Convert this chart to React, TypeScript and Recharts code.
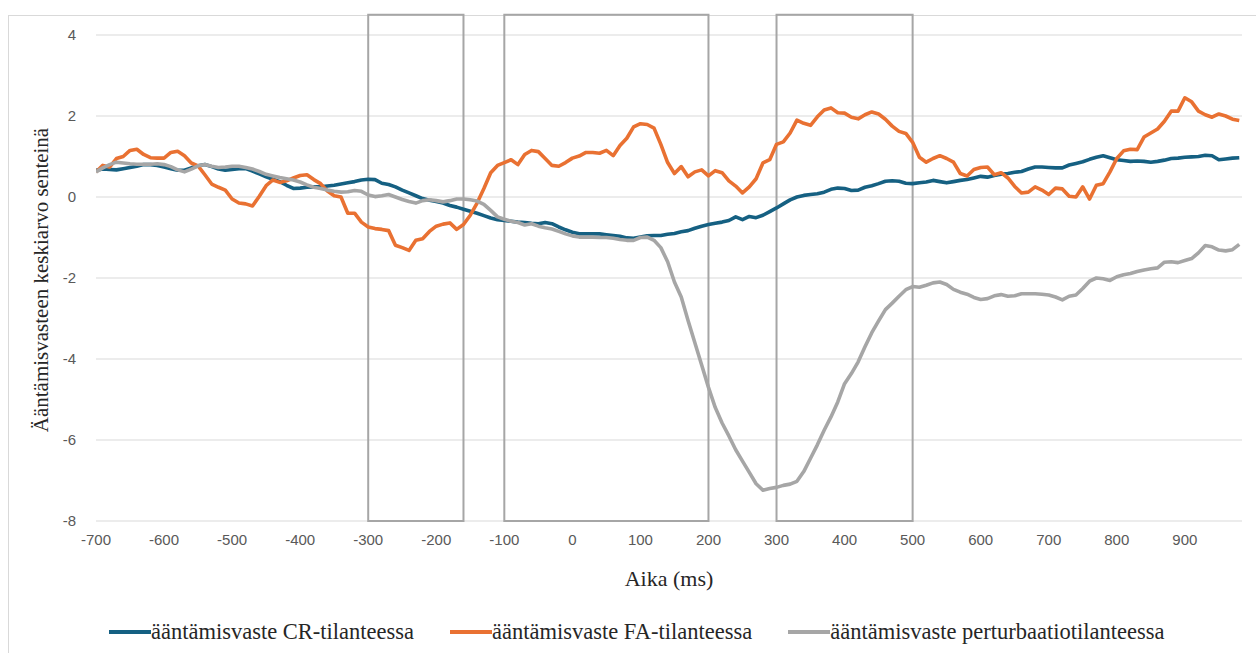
import {
  CartesianGrid,
  Label,
  Legend,
  Line,
  LineChart,
  ReferenceArea,
  XAxis,
  YAxis,
} from "recharts";

// sampling grid of the averaged responses, every 10 ms
const TIME_MS = Array.from({ length: 169 }, (_, i) => -700 + i * 10);

const CR = [
  0.66, 0.69, 0.68, 0.67, 0.7, 0.73, 0.76, 0.8, 0.8, 0.78,
  0.74, 0.7, 0.66, 0.66, 0.72, 0.77, 0.8, 0.75, 0.69, 0.66,
  0.68, 0.7, 0.7, 0.64, 0.57, 0.5, 0.44, 0.38, 0.29, 0.21,
  0.22, 0.24, 0.25, 0.25, 0.27, 0.29, 0.32, 0.35, 0.38, 0.42,
  0.44, 0.43, 0.34, 0.31, 0.25, 0.17, 0.1, 0.03, -0.04, -0.08,
  -0.11, -0.15, -0.21, -0.25, -0.3, -0.35, -0.4, -0.46, -0.52, -0.56,
  -0.58, -0.6, -0.62, -0.63, -0.65, -0.66, -0.63, -0.66, -0.74, -0.81,
  -0.87, -0.91, -0.91, -0.91, -0.91, -0.93, -0.95, -0.97, -1.01, -1.02,
  -0.99, -0.96, -0.95, -0.95, -0.92, -0.9, -0.86, -0.83, -0.77, -0.72,
  -0.68, -0.65, -0.62, -0.58, -0.49, -0.56, -0.48, -0.51, -0.45, -0.36,
  -0.27, -0.17, -0.07, 0.0, 0.04, 0.06, 0.08, 0.12, 0.19, 0.22,
  0.21, 0.16, 0.17, 0.24, 0.28, 0.33, 0.39, 0.4, 0.39, 0.34,
  0.33, 0.35, 0.37, 0.41, 0.38, 0.35, 0.38, 0.41, 0.43, 0.47,
  0.51, 0.49, 0.53, 0.56, 0.58, 0.61, 0.63, 0.69, 0.74, 0.74,
  0.73, 0.72, 0.72, 0.79, 0.83, 0.87, 0.93, 0.98, 1.02, 0.97,
  0.92, 0.9, 0.88, 0.89, 0.88, 0.86, 0.88, 0.91, 0.95, 0.96,
  0.98, 0.99, 1.0, 1.03, 1.02, 0.92, 0.94, 0.96, 0.97,
];

const FA = [
  0.62, 0.78, 0.74, 0.95, 1.0, 1.15, 1.18, 1.05, 0.97, 0.96,
  0.96, 1.1, 1.13, 1.02, 0.84, 0.77, 0.55, 0.32, 0.24, 0.17,
  -0.05, -0.15, -0.17, -0.22, 0.02, 0.28, 0.42, 0.36, 0.4, 0.47,
  0.53, 0.55, 0.43, 0.33, 0.15, 0.03, 0.0, -0.4, -0.4, -0.62,
  -0.74, -0.78, -0.8, -0.83, -1.19, -1.25, -1.32, -1.07, -1.03, -0.85,
  -0.72, -0.67, -0.64, -0.8, -0.68, -0.45, -0.15, 0.21, 0.6, 0.78,
  0.85, 0.92, 0.8, 1.05, 1.15, 1.12, 0.95, 0.78, 0.76, 0.85,
  0.96, 1.01, 1.1, 1.1, 1.08, 1.15, 1.02, 1.27, 1.45, 1.73,
  1.81, 1.79, 1.7, 1.3, 0.85, 0.58, 0.75, 0.5, 0.62, 0.67,
  0.52, 0.65, 0.6, 0.4, 0.27, 0.1, 0.25, 0.45, 0.84, 0.92,
  1.3, 1.36, 1.58, 1.9, 1.82, 1.77, 1.98, 2.15, 2.2, 2.08,
  2.07, 1.97, 1.93, 2.03, 2.1, 2.05, 1.92, 1.75, 1.62, 1.57,
  1.35, 0.98, 0.86, 0.95, 1.02, 0.95, 0.86, 0.58, 0.52, 0.68,
  0.73, 0.74, 0.55, 0.6, 0.47, 0.26, 0.1, 0.12, 0.25, 0.17,
  0.06, 0.22, 0.2, 0.02, 0.0, 0.25, -0.05, 0.29, 0.33, 0.62,
  0.95, 1.14, 1.18, 1.17, 1.48, 1.58, 1.68, 1.87, 2.12, 2.12,
  2.45, 2.35, 2.12, 2.03, 1.97, 2.05, 2.0, 1.92, 1.89,
];

const PERTURBATION = [
  0.62, 0.72, 0.8, 0.86, 0.84, 0.82, 0.81, 0.81, 0.81, 0.82,
  0.8, 0.75, 0.67, 0.62, 0.69, 0.77, 0.8, 0.76, 0.73, 0.74,
  0.76, 0.76, 0.73, 0.69, 0.63, 0.56, 0.52, 0.48, 0.45, 0.42,
  0.37, 0.3, 0.24, 0.21, 0.17, 0.14, 0.12, 0.13, 0.16, 0.14,
  0.05, 0.01, 0.03, 0.06, 0.0, -0.06, -0.11, -0.15, -0.09, -0.07,
  -0.09, -0.12, -0.09, -0.05, -0.05, -0.07, -0.1, -0.18, -0.33, -0.49,
  -0.55, -0.6, -0.63, -0.69, -0.66, -0.72, -0.76, -0.79, -0.85, -0.91,
  -0.96, -0.99, -0.99, -0.99, -1.0, -1.0, -1.02, -1.05, -1.07, -1.07,
  -1.0, -0.99, -1.07, -1.25, -1.6, -2.1, -2.47, -3.05, -3.6, -4.15,
  -4.7, -5.2, -5.58, -5.9, -6.24, -6.52, -6.8, -7.08, -7.24, -7.2,
  -7.17, -7.12, -7.09, -7.02, -6.78, -6.45, -6.12, -5.76, -5.43, -5.06,
  -4.61, -4.36, -4.07, -3.7, -3.35, -3.06, -2.78, -2.62, -2.45, -2.29,
  -2.21, -2.23, -2.18, -2.12, -2.1, -2.16, -2.28, -2.35, -2.4, -2.48,
  -2.53, -2.51, -2.44, -2.41, -2.45, -2.44, -2.39, -2.39, -2.39, -2.4,
  -2.42, -2.47, -2.54, -2.45, -2.42, -2.26, -2.08, -2.0, -2.02, -2.06,
  -1.97, -1.92, -1.89, -1.84, -1.8, -1.77, -1.75, -1.61, -1.6, -1.62,
  -1.57, -1.52, -1.38, -1.2, -1.23, -1.31, -1.33, -1.3, -1.17,
];

const X_TICKS = [
  -700, -600, -500, -400, -300, -200, -100, 0, 100, 200, 300, 400, 500, 600, 700, 800, 900,
];
const Y_TICKS = [-8, -6, -4, -2, 0, 2, 4];

// analysis windows marked with boxes (ms)
const WINDOWS = [
  [-300, -160],
  [-100, 200],
  [300, 500],
];

const SERIES = [
  { key: "cr", name: "ääntämisvaste CR-tilanteessa", color: "#156082" },
  { key: "fa", name: "ääntämisvaste FA-tilanteessa", color: "#E97132" },
  { key: "pert", name: "ääntämisvaste perturbaatiotilanteessa", color: "#A6A6A6" },
];

const data = TIME_MS.map((t, i) => ({
  t,
  cr: CR[i],
  fa: FA[i],
  pert: PERTURBATION[i],
}));

const SERIF = '"Liberation Serif", "Times New Roman", serif';
const SANS = '"Liberation Sans", Arial, sans-serif';
const GRID = "#d9d9d9";
const TICK = "#595959";
const TITLE = "#262626";
const LEGEND_H = 26;

function LegendRow({ payload }: any) {
  return (
    <div style={{ display: "flex", alignItems: "center", height: LEGEND_H }}>
      {(payload || []).map((p: any) => (
        <div
          key={p.value}
          style={{ display: "flex", alignItems: "center", marginRight: 36 }}
        >
          <span
            style={{ display: "inline-block", width: 42, height: 4, background: p.color }}
          />
          <span style={{ fontFamily: SERIF, fontSize: 22.5, color: TITLE, lineHeight: "26px" }}>
            {p.value}
          </span>
        </div>
      ))}
    </div>
  );
}

export default function App() {
  return (
    <div
      style={{
        position: "absolute",
        left: 0,
        top: 0,
        width: 1256,
        height: 653,
        background: "#fff",
        overflow: "hidden",
      }}
    >
      <div
        style={{
          position: "absolute",
          left: 8,
          top: 15,
          width: 1248,
          height: 638,
          borderLeft: "1px solid #d9d9d9",
          borderTop: "1px solid #d9d9d9",
          boxSizing: "border-box",
        }}
      />
      <LineChart
        width={1256}
        height={653}
        data={data}
        margin={{ top: 35, right: 14, bottom: 132 - 40 - LEGEND_H, left: 36 }}
      >
        <CartesianGrid vertical={false} stroke={GRID} strokeWidth={1.2} />
        <XAxis
          dataKey="t"
          type="number"
          domain={[-700, 984]}
          ticks={X_TICKS}
          axisLine={false}
          tickLine={false}
          tickMargin={7}
          tick={{ fill: TICK, fontSize: 15, fontFamily: SANS }}
          height={40}
          allowDataOverflow
        >
          <Label
            content={() => (
              <text
                x={669}
                y={578}
                textAnchor="middle"
                dominantBaseline="central"
                fill={TITLE}
                fontSize={22}
                fontFamily={SERIF}
              >
                Aika (ms)
              </text>
            )}
          />
        </XAxis>
        <YAxis
          type="number"
          domain={[-8, 4]}
          ticks={Y_TICKS}
          axisLine={false}
          tickLine={false}
          tickMargin={14}
          width={60}
          tick={{ fill: TICK, fontSize: 15, fontFamily: SANS }}
        >
          <Label
            content={() => (
              <text
                x={41}
                y={280}
                transform="rotate(-90 41 280)"
                textAnchor="middle"
                dominantBaseline="central"
                fill={TITLE}
                fontSize={21}
                fontFamily={SERIF}
              >
                Ääntämisvasteen keskiarvo senteinä
              </text>
            )}
          />
        </YAxis>
        {WINDOWS.map(([a, b]) => (
          <ReferenceArea
            key={a}
            x1={a}
            x2={b}
            y1={-8}
            y2={4.5}
            ifOverflow="visible"
            fill="none"
            fillOpacity={0}
            stroke="#A6A6A6"
            strokeWidth={2}
          />
        ))}
        {SERIES.map((s) => (
          <Line
            key={s.key}
            dataKey={s.key}
            name={s.name}
            type="linear"
            stroke={s.color}
            strokeWidth={3.6}
            strokeLinejoin="round"
            dot={false}
            activeDot={false}
            isAnimationActive={false}
          />
        ))}
        <Legend
          content={<LegendRow />}
          height={LEGEND_H}
          wrapperStyle={{ position: "absolute", left: 109, top: 619, width: 1140, height: LEGEND_H }}
        />
      </LineChart>
    </div>
  );
}
